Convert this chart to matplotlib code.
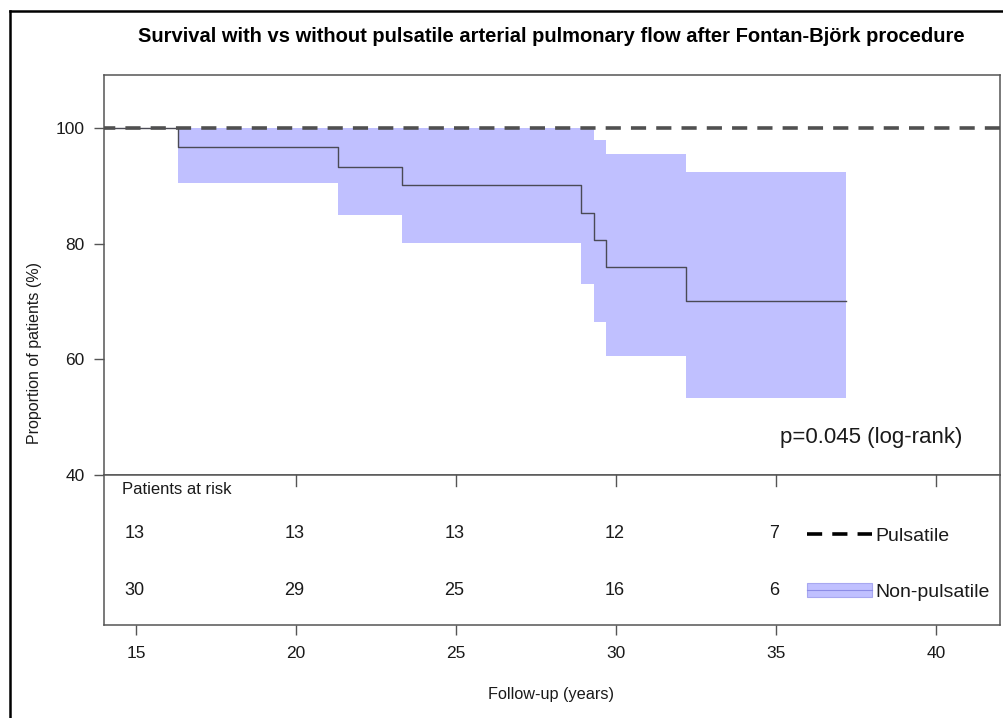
import numpy as np
import matplotlib
matplotlib.use("Agg")
import matplotlib.pyplot as plt
from matplotlib.lines import Line2D
from matplotlib.patches import Patch

plt.rcParams["font.family"] = ["Liberation Sans", "DejaVu Sans"]

# pulsatile group: no events
puls_time = [0.0, 45.0]
puls_surv = [100.0, 100.0]

# non-pulsatile group: Kaplan-Meier steps (%)
np_time = [0.0, 16.3, 21.3, 23.3, 28.9, 29.3, 29.7, 32.2, 37.2]
np_surv = [100.0, 96.8, 93.3, 90.1, 85.4, 80.6, 75.9, 70.1, 70.1]

# 95% confidence band for non-pulsatile
ci_time = [16.3, 21.3, 23.3, 28.9, 29.3, 29.7, 32.2, 37.2]
ci_upper = [100.0, 100.0, 100.0, 100.0, 97.9, 95.5, 92.4, 92.4]
ci_lower = [90.6, 85.0, 80.1, 73.0, 66.4, 60.6, 53.3, 53.3]

# numbers at risk
risk_years = [15, 20, 25, 30, 35]
risk_puls = [13, 13, 13, 12, 7]
risk_nonpuls = [30, 29, 25, 16, 6]

x_ticks = [15, 20, 25, 30, 35, 40]
y_ticks = [40, 60, 80, 100]

band_col = "#C0C0FF"
frame_col = "#555555"
text_col = "#1a1a1a"

W, H = 1004, 718
fig = plt.figure(figsize=(W / 100, H / 100), dpi=100)

left, right = 104 / W, 1000 / W
ax1 = fig.add_axes([left, 1 - 475 / H, right - left, 400 / H])
ax2 = fig.add_axes([left, 1 - 625 / H, right - left, 150 / H])

# --- survival panel
ax1.fill_between(ci_time, ci_lower, ci_upper, step="post", color=band_col, lw=0, zorder=1)
ax1.step(np_time, np_surv, where="post", color="#4a4a55", lw=1.0, zorder=2)
ax1.plot(puls_time, puls_surv, color="#505050", lw=2.6, dashes=(4.2, 2.8), zorder=3)
ax1.set_xlim(14, 42)
ax1.set_ylim(40, 109.2)
ax1.set_yticks(y_ticks)
ax1.set_xticks([])
ax1.tick_params(axis="y", direction="out", length=7, width=1, color=frame_col,
                labelsize=12.5, labelcolor=text_col, pad=7)
for s in ax1.spines.values():
    s.set_color(frame_col)
    s.set_linewidth(1.1)
ax1.text(0.958, 0.095, "p=0.045 (log-rank)", transform=ax1.transAxes,
         ha="right", va="center", fontsize=16, color=text_col)

# --- risk table panel
ax2.set_xlim(14, 42)
ax2.set_ylim(0, 1)
ax2.set_yticks([])
ax2.set_xticks(x_ticks)
ax2.tick_params(axis="x", direction="out", length=7, width=1, color=frame_col,
                labelsize=12.5, labelcolor=text_col, pad=8)
for t in x_ticks[1:]:
    ax2.plot([t, t], [1, 0.93], color=frame_col, lw=1, clip_on=False)
for s in ax2.spines.values():
    s.set_color(frame_col)
    s.set_linewidth(1.1)
ax2.text(14.56, 0.9, "Patients at risk", ha="left", va="center", fontsize=12, color=text_col)
for x, a, b in zip(risk_years, risk_puls, risk_nonpuls):
    ax2.text(x - 0.05, 0.607, str(a), ha="center", va="center", fontsize=13, color=text_col)
    ax2.text(x - 0.05, 0.227, str(b), ha="center", va="center", fontsize=13, color=text_col)

handles = [
    Line2D([], [], color="black", lw=2.6, dashes=(4.2, 2.8)),
    (Patch(facecolor=band_col, edgecolor="#a8a8f0", lw=0.8),
     Line2D([], [], color="#8c8ce6", lw=0.8)),
]
ax2.legend(handles, ["Pulsatile", "Non-pulsatile"], loc="center left",
           bbox_to_anchor=(0.785, 0.407), frameon=False, fontsize=14,
           handlelength=3.35, handleheight=0.75, handletextpad=0.15,
           labelspacing=1.95, borderaxespad=0, borderpad=0, labelcolor=text_col)

# --- labels
fig.text(551 / W, 1 - 36 / H, "Survival with vs without pulsatile arterial pulmonary flow after Fontan-Björk procedure",
         ha="center", va="center", fontsize=14.5, fontweight="bold", color="black")
fig.text(551 / W, 1 - 694 / H, "Follow-up (years)", ha="center", va="center", fontsize=11.7, color=text_col)
fig.text(35 / W, 1 - 353 / H, "Proportion of patients (%)", ha="center", va="center",
         rotation=90, fontsize=11.5, color=text_col)

# outer border (left and top edges visible)
fig.add_artist(Line2D([9.5 / W, 9.5 / W], [0, 1 - 11 / H], color="black", lw=1.8, transform=fig.transFigure))
fig.add_artist(Line2D([9.5 / W, 1], [1 - 11 / H, 1 - 11 / H], color="black", lw=1.8, transform=fig.transFigure))

fig.savefig("out.png", dpi=100)
